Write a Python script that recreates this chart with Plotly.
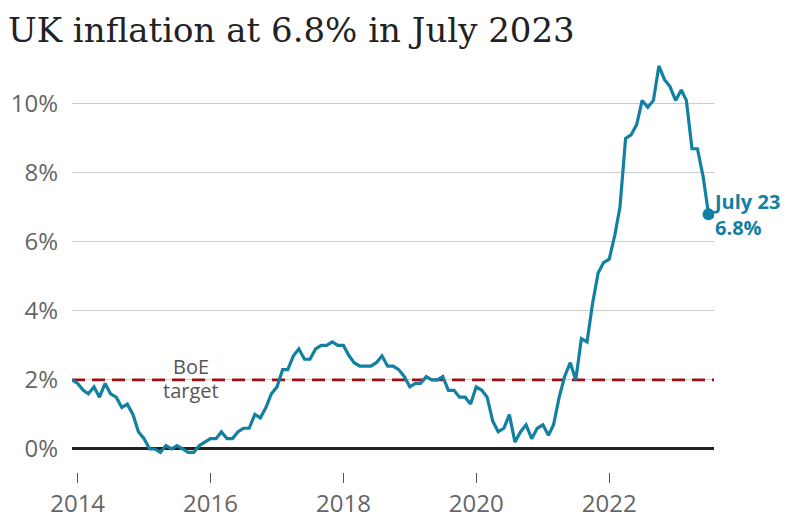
import pandas as pd
import plotly.graph_objects as go

# UK CPI annual inflation rate (%), monthly, Dec 2013 - Jul 2023
cpi_2013_dec = [2.0]
cpi_2014 = [1.9, 1.7, 1.6, 1.8, 1.5, 1.9, 1.6, 1.5, 1.2, 1.3, 1.0, 0.5]
cpi_2015 = [0.3, 0.0, 0.0, -0.1, 0.1, 0.0, 0.1, 0.0, -0.1, -0.1, 0.1, 0.2]
cpi_2016 = [0.3, 0.3, 0.5, 0.3, 0.3, 0.5, 0.6, 0.6, 1.0, 0.9, 1.2, 1.6]
cpi_2017 = [1.8, 2.3, 2.3, 2.7, 2.9, 2.6, 2.6, 2.9, 3.0, 3.0, 3.1, 3.0]
cpi_2018 = [3.0, 2.7, 2.5, 2.4, 2.4, 2.4, 2.5, 2.7, 2.4, 2.4, 2.3, 2.1]
cpi_2019 = [1.8, 1.9, 1.9, 2.1, 2.0, 2.0, 2.1, 1.7, 1.7, 1.5, 1.5, 1.3]
cpi_2020 = [1.8, 1.7, 1.5, 0.8, 0.5, 0.6, 1.0, 0.2, 0.5, 0.7, 0.3, 0.6]
cpi_2021 = [0.7, 0.4, 0.7, 1.5, 2.1, 2.5, 2.0, 3.2, 3.1, 4.2, 5.1, 5.4]
cpi_2022 = [5.5, 6.2, 7.0, 9.0, 9.1, 9.4, 10.1, 9.9, 10.1, 11.1, 10.7, 10.5]
cpi_2023 = [10.1, 10.4, 10.1, 8.7, 8.7, 7.9, 6.8]

values = (cpi_2013_dec + cpi_2014 + cpi_2015 + cpi_2016 + cpi_2017 + cpi_2018
          + cpi_2019 + cpi_2020 + cpi_2021 + cpi_2022 + cpi_2023)
dates = pd.date_range("2013-12-01", periods=len(values), freq="MS")

y_ticks = [0, 2, 4, 6, 8, 10]
y_labels = [f"{v}%" for v in y_ticks]
x_ticks = ["2014-01-01", "2016-01-01", "2018-01-01", "2020-01-01", "2022-01-01"]
x_labels = ["2014", "2016", "2018", "2020", "2022"]
x_range = ["2013-12-01", "2023-07-31"]

boe_target = 2
last_label = "July 23"

TEAL = "#1380A1"
GREY_TXT = "#666666"

fig = go.Figure()

# Bank of England 2% target, across the whole axis range
fig.add_trace(go.Scatter(x=x_range, y=[boe_target, boe_target], mode="lines",
                         line=dict(color="#9e1016", width=2.8, dash="13px,7px"),
                         hoverinfo="skip", cliponaxis=False))

fig.add_trace(go.Scatter(x=dates, y=values, mode="lines",
                         line=dict(color=TEAL, width=3.2), hoverinfo="skip"))
fig.add_trace(go.Scatter(x=[dates[-1]], y=[values[-1]], mode="markers",
                         marker=dict(color=TEAL, size=12), hoverinfo="skip"))

fig.add_annotation(x=1, xref="paper", y=values[-1], yref="y", xanchor="left", yanchor="middle",
                   text=f"<b>{last_label}<br>{values[-1]}%</b>", showarrow=False, align="left",
                   font=dict(family="Open Sans", size=20, color=TEAL), xshift=-3)

fig.add_annotation(x="2015-09-15", y=boe_target, text="BoE", showarrow=False,
                   yanchor="middle", yshift=13, font=dict(family="Open Sans", size=20, color="#555555"))
fig.add_annotation(x="2015-09-15", y=boe_target, text="target", showarrow=False,
                   yanchor="middle", yshift=-11, font=dict(family="Open Sans", size=20, color="#555555"))

fig.update_layout(
    width=790, height=518,
    margin=dict(l=72, r=76, t=59, b=46),
    paper_bgcolor="white", plot_bgcolor="white",
    showlegend=False,
    title=dict(text="UK inflation at 6.8% in July 2023", x=8 / 790, xanchor="left",
               xref="container", y=1 - 30 / 518, yanchor="middle", yref="container",
               font=dict(family="DejaVu Serif", size=34, color="#222222")),
    font=dict(family="Open Sans", color=GREY_TXT),
)

fig.update_xaxes(range=x_range, tickvals=x_ticks, ticktext=x_labels,
                 showgrid=False, showline=False, zeroline=False, automargin=False,
                 ticks="outside", ticklen=10, tickwidth=1, tickcolor="#555555",
                 tickfont=dict(family="Open Sans", size=24, color=GREY_TXT))
fig.update_yaxes(range=[-0.667, 11.3], tickvals=y_ticks, ticktext=y_labels,
                 showgrid=True, gridcolor="#cccccc", gridwidth=1, automargin=False,
                 zeroline=True, zerolinecolor="#222222", zerolinewidth=2.5,
                 showline=False, ticks="", ticklabelstandoff=13,
                 tickfont=dict(family="Open Sans", size=24, color=GREY_TXT))

fig.write_html("out.html", config={"displayModeBar": False},
               post_script="document.body.style.margin='0px';document.body.style.overflow='hidden';")
